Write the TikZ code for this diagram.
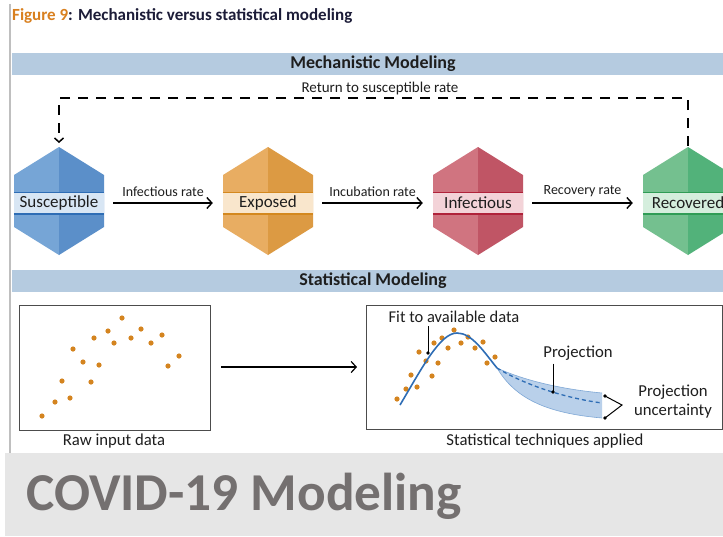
\documentclass[tikz,border=0pt]{standalone}
\usepackage{fontspec}
\setmainfont{Carlito}
\usetikzlibrary{arrows.meta}
\definecolor{barblue}{HTML}{B5CBE0}
\definecolor{titleorange}{HTML}{D9801F}
\definecolor{titlenavy}{HTML}{1C1C38}
\definecolor{txt}{HTML}{1E1E1E}
\definecolor{dotc}{HTML}{D4841F}
\definecolor{sL}{HTML}{76A5D6}\definecolor{sD}{HTML}{5B8FC9}\definecolor{sB}{HTML}{D8E6F4}\definecolor{sLn}{HTML}{2E6DB5}
\definecolor{eL}{HTML}{E8AD62}\definecolor{eD}{HTML}{DC9A43}\definecolor{eB}{HTML}{F9E6CC}\definecolor{eLn}{HTML}{D4881E}
\definecolor{iL}{HTML}{D07480}\definecolor{iD}{HTML}{C05565}\definecolor{iB}{HTML}{F3D3D8}\definecolor{iLn}{HTML}{B0223A}
\definecolor{rL}{HTML}{74C08F}\definecolor{rD}{HTML}{52B27A}\definecolor{rB}{HTML}{D5EEDD}\definecolor{rLn}{HTML}{2F9C55}
\definecolor{curveblue}{HTML}{2E6DB5}
\definecolor{bandfill}{HTML}{B9D0EA}
\definecolor{bandedge}{HTML}{7FA8D6}
\definecolor{bottomgray}{HTML}{E6E6E6}
\definecolor{bigtext}{HTML}{747070}
\newcommand\hexcell[8]{%
  \fill[#4] (#2,147) -- (#2-45,175) -- (#2-45,227) -- (#2,255) -- cycle;
  \fill[#5] (#2,147) -- (#2+45,175) -- (#2+45,227) -- (#2,255) -- cycle;
  \coordinate (#1top) at (#2,147);
  \node[bandbox, fill=#6] (#1) at (#2,203) {#3};
  \draw[#7, line width=1.6] (#1.north west) -- (#1.north east) (#1.south west) -- (#1.south east);
}
\tikzset{
  bandbox/.style={minimum width=90, minimum height=21, inner sep=0, text=txt, font=\fontsize{17}{19}\selectfont},
  arr/.style={line width=1.4, -{Straight Barb[length=5pt,width=11pt]}},
  header/.style={fill=barblue, draw=none},
  headtext/.style={font=\bfseries\fontsize{18}{20}\selectfont, text=txt},
  rate/.style={font=\fontsize{14}{16}\selectfont, text=txt},
  caption/.style={font=\fontsize{16.7}{19}\selectfont, text=txt},
  dot/.style={fill=dotc},
  plotbox/.style={draw=black!70, line width=0.8},
}
\begin{document}
\begin{tikzpicture}[x=1pt,y=-1pt]
\clip (0,0) rectangle (723,536);
\fill[white] (0,0) rectangle (723,536);
% left border line
\draw[black!25, line width=1.2] (10,4) -- (10,453);
% title
\node[anchor=west, font=\bfseries\fontsize{17}{20}\selectfont, inner sep=0] (title) at (12,16)
  {\textcolor{titleorange}{Figure 9}\textcolor{titlenavy}{: Mechanistic versus statistical modeling}};
% header bars
\fill[header] (12,53) rectangle (723,75);
\node[headtext] (mechhead) at (373,64) {Mechanistic Modeling};
\fill[header] (12,270) rectangle (723,292);
\node[headtext] (stathead) at (373,281) {Statistical Modeling};
% hexagons
\hexcell{S}{59}{Susceptible}{sL}{sD}{sB}{sLn}{}
\hexcell{E}{268}{Exposed}{eL}{eD}{eB}{eLn}{}
\hexcell{I}{478}{Infectious}{iL}{iD}{iB}{iLn}{}
\hexcell{R}{688}{Recovered}{rL}{rD}{rB}{rLn}{}
% rate arrows
\draw[arr] ([xshift=9pt]S.east) -- node[rate, above=2pt] {Infectious rate} ([xshift=-10pt]E.west);
\draw[arr] ([xshift=9pt]E.east) -- node[rate, above=2pt] {Incubation rate} ([xshift=-10pt]I.west);
\draw[arr] ([xshift=9pt]I.east) -- node[rate, above=2pt] {Recovery rate} ([xshift=-10pt]R.west);
% return dashed
\draw[line width=1.5, dash pattern=on 10pt off 8pt, -{Straight Barb[length=4pt,width=9pt]}]
  ([yshift=1pt]Rtop) -- ++(0,-48) coordinate (rt) -| ([yshift=4pt]Stop);
\node[rate, font=\fontsize{15}{17}\selectfont] (ret) at (380,88) {Return to susceptible rate};
% raw data box
\draw[plotbox] (19,305) rectangle (210,430);
\node[caption] (rawcap) at (114,441) {Raw input data};
\foreach \px/\py in {42/416,55/402,70/398,62/381,91/382,83/362,99/365,73/349,94/338,108/331,114/343,122/318,131/338,141/329,151/343,162/335,168/366,179/356}
  \fill[dot] (\px,\py) circle (2.6);
\coordinate (rawR) at (221,367);
\coordinate (fitL) at (357,367);
\draw[line width=1.2, -{Straight Barb[length=5pt,width=11pt]}] (rawR) -- (fitL);
% statistical box
\draw[plotbox] (366,305) rectangle (722,429);
\node[caption] (statcap) at (545,441) {Statistical techniques applied};
% band
\fill[bandfill] (497,368) .. controls (530,383) and (570,390) .. (602,393) -- (602,418)
  .. controls (545,413) and (515,398) .. (497,368) -- cycle;
\draw[bandedge, line width=0.6] (497,368) .. controls (530,383) and (570,390) .. (602,393);
\draw[bandedge, line width=0.6] (497,368) .. controls (515,398) and (545,413) .. (602,418);
\draw[curveblue, line width=1.3, dash pattern=on 4pt off 3pt] (497,368) .. controls (525,385) and (565,398) .. (602,403);
% dots
\foreach \px/\py in {397/399,406/389,417/387,411/375,432/376,426/361,438/363,419/352,434/343,442/338,448/348,454/330,461/343,468/337,475/348,483/342,487/363,495/357}
  \fill[dot] (\px,\py) circle (2.6);
% fit curve
\draw[curveblue, line width=1.6] (400,405) .. controls (422,368) and (440,333) .. (457,333)
  .. controls (472,333) and (484,352) .. (497,368);
% pointers
\node[caption, font=\fontsize{16.5}{19}\selectfont] (fit) at (454,317) {Fit to available data};
\coordinate (fitdot) at (428,353);
\draw[black, line width=1] (fit.south -| fitdot) -- (fitdot);
\fill (fitdot) circle (1.9);
\node[caption] (proj) at (578,353) {Projection};
\coordinate (projdot) at (553,392);
\draw[black, line width=1] (proj.south -| projdot) -- (projdot);
\fill (projdot) circle (1.9);
\node[caption, align=center, inner sep=1pt] (unc) at (673,402) {Projection\\uncertainty};
\coordinate (u1) at (605,396);
\coordinate (u2) at (605,418);
\coordinate (utip) at (622,405);
\draw[black, line width=1] (u1) -- (utip) -- (u2);
\fill (u1) circle (1.9);
\fill (u2) circle (1.9);
% bottom band
\fill[bottomgray] (5,453) rectangle (723,536);
\node[anchor=west, inner sep=0, font=\bfseries\fontsize{53.3}{58}\selectfont, text=bigtext] (covid) at (26,496) {COVID-19 Modeling};
\end{tikzpicture}
\end{document}
